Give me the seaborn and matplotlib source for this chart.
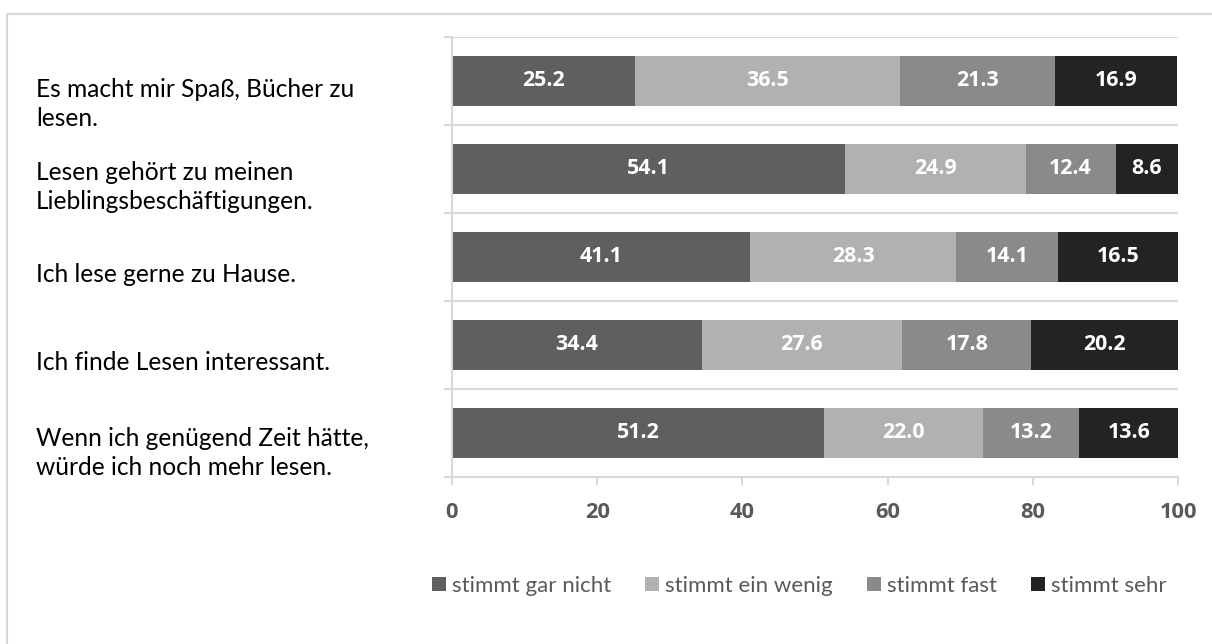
import matplotlib
matplotlib.use("Agg")
import matplotlib.pyplot as plt
import matplotlib.transforms as mtransforms
from matplotlib.patches import Patch
from matplotlib.lines import Line2D
import numpy as np
import pandas as pd
import seaborn as sns

categories = [
    "Es macht mir Spaß, Bücher zu\nlesen.",
    "Lesen gehört zu meinen\nLieblingsbeschäftigungen.",
    "Ich lese gerne zu Hause.",
    "Ich finde Lesen interessant.",
    "Wenn ich genügend Zeit hätte,\nwürde ich noch mehr lesen.",
]
series_names = ["stimmt gar nicht", "stimmt ein wenig", "stimmt fast", "stimmt sehr"]
gar_nicht = [25.2, 54.1, 41.1, 34.4, 51.2]
ein_wenig = [36.5, 24.9, 28.3, 27.6, 22.0]
fast = [21.3, 12.4, 14.1, 17.8, 13.2]
sehr = [16.9, 8.6, 16.5, 20.2, 13.6]
x_ticks = [0, 20, 40, 60, 80, 100]

colors = ["#5f5f5f", "#b1b1b1", "#8a8a8a", "#232323"]
grid_c = "#d9d9d9"
txt_grey = "#595959"
REG = ["Lato", "DejaVu Sans"]
BOLD = ["Open Sans", "DejaVu Sans"]

sns.set_theme(style="white")
plt.rcParams["font.family"] = REG

W, H, DPI = 1212, 644, 100
fig = plt.figure(figsize=(W / DPI, H / DPI), dpi=DPI)
renderer = fig.canvas.get_renderer()


def fit_size(text, target_px, family, weight="normal", base=15.0):
    t = fig.text(0, 0, text, fontsize=base, family=family, fontweight=weight)
    w = t.get_window_extent(renderer).width
    t.remove()
    return base * target_px / w


cat_fs = fit_size("Es macht mir Spaß, Bücher zu", 319, REG)
leg_fs = fit_size("stimmt gar nicht", 159, REG)
num_fs = fit_size("25.2", 43, BOLD, "bold")
tick_fs = fit_size("20", 25, BOLD, "bold")

ax = fig.add_axes([452 / W, 1 - 477 / H, (1178 - 452) / W, (477 - 37) / H])

series = [gar_nicht, ein_wenig, fast, sehr]
vals = np.array(series)
cum = np.cumsum(vals, axis=0)

# stacked bars drawn back-to-front: each layer is the cumulative total
for i in range(3, -1, -1):
    df = pd.DataFrame({"cat": categories, "val": cum[i]})
    sns.barplot(data=df, x="val", y="cat", orient="h", color=colors[i],
                saturation=1, width=0.56, linewidth=0, ax=ax)

for i in range(4):
    for j in range(len(categories)):
        left = cum[i][j] - vals[i][j]
        ax.text(left + vals[i][j] / 2, j, f"{vals[i][j]:.1f}", ha="center", va="center",
                color="white", fontsize=num_fs, fontweight="bold", family=BOLD)

ax.set_xlim(0, 100)
ax.set_ylim(len(categories) - 0.5, -0.5)
ax.set_xlabel("")
ax.set_ylabel("")
ax.set_xticks(x_ticks)
ax.set_xticklabels([str(t) for t in x_ticks])

for s in ["top", "right"]:
    ax.spines[s].set_visible(False)
for s in ["left", "bottom"]:
    ax.spines[s].set_color(grid_c)
    ax.spines[s].set_linewidth(1.5)

for b in np.arange(-0.5, len(categories) - 0.5, 1.0):
    ax.axhline(b, color=grid_c, lw=1.5, zorder=0)
ax.set_yticks(np.arange(-0.5, len(categories) + 0.5, 1.0), minor=True)
ax.tick_params(axis="y", which="minor", length=6, width=1.5, color=grid_c, left=True)
ax.set_yticks(range(len(categories)))
ax.set_yticklabels(categories)
ax.tick_params(axis="y", which="major", length=0, pad=416 * 72 / DPI, labelsize=cat_fs,
               labelcolor="black")
offs = [18, 13, 15, 15, 15]
for lab, o in zip(ax.get_yticklabels(), offs):
    lab.set_horizontalalignment("left")
    lab.set_linespacing(1.33)
    lab.set_transform(lab.get_transform() + mtransforms.ScaledTranslation(0, -o / DPI, fig.dpi_scale_trans))

ax.tick_params(axis="x", which="major", length=6, width=1.5, color=grid_c, bottom=True,
               pad=12, labelsize=tick_fs, labelcolor=txt_grey)
for lab in ax.get_xticklabels():
    lab.set_fontweight("bold")
    lab.set_family(BOLD)

handles = [Patch(facecolor=c, edgecolor="none") for c in colors]
px = leg_fs * DPI / 72
fig.legend(handles, series_names, loc="center left", bbox_to_anchor=(432 / W, 1 - 586 / H),
           ncol=4, frameon=False, fontsize=leg_fs, handlelength=14 / px, handleheight=14 / px,
           handletextpad=6 / px, columnspacing=34 / px, borderpad=0, borderaxespad=0,
           labelcolor=txt_grey)

fig.add_artist(Line2D([7 / W, 1.0], [1 - 13.5 / H, 1 - 13.5 / H], transform=fig.transFigure,
                      color=grid_c, lw=1.5))
fig.add_artist(Line2D([7 / W, 7 / W], [0, 1 - 13.5 / H], transform=fig.transFigure,
                      color=grid_c, lw=1.5))

fig.savefig("out.png", dpi=DPI)
